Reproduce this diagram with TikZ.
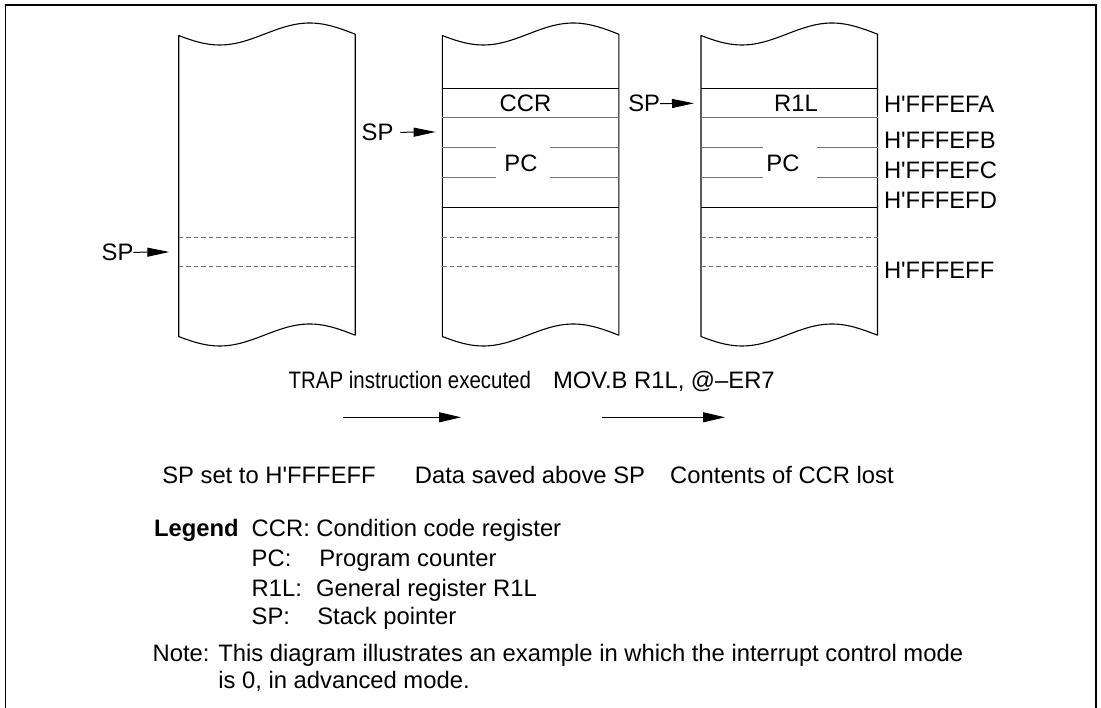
\documentclass[tikz,border=0pt]{standalone}
\usepackage{fontspec}
\setmainfont{Liberation Sans}
\usetikzlibrary{arrows.meta}
\newcommand\hq{\textquotesingle}
\newcommand\stackcol[1]{%
  \draw[col] plot[domain=0:176.5,samples=45] ({#1+\x},{34+11*cos(2*(\x-41))})
     -- plot[domain=176.5:0,samples=45] ({#1+\x},{335+11*cos(2*(\x-41))}) -- cycle;
  \draw[dashrow] (#1,237.3) -- ++(176.5,0);
  \draw[dashrow] (#1,267) -- ++(176.5,0);
}
\newcommand\fullrows[3]{% left, gap left, gap right
  \draw[solidrow] (#1,88.3) -- ++(176.5,0);
  \draw[solidrow] (#1,207.3) -- ++(176.5,0);
  \draw[grayrow] (#1,117.7) -- ++(176.5,0);
  \draw[grayrow] (#1,147.7) -- (#2,147.7);
  \draw[grayrow] (#3,147.7) -- (#1+176.5,147.7);
  \draw[grayrow] (#1,177.7) -- (#2,177.7);
  \draw[grayrow] (#3,177.7) -- (#1+176.5,177.7);
}
\newcommand\cond[2]{\scalebox{#1}[1]{#2}}
\begin{document}
\begin{tikzpicture}[x=1pt,y=-1pt,
  every node/.style={inner sep=0pt, outer sep=0pt, font=\fontsize{23.8}{28}\selectfont},
  col/.style={line width=1.1pt, line join=round},
  solidrow/.style={line width=1pt},
  grayrow/.style={line width=1pt, black!55},
  dashrow/.style={line width=1pt, black!55, dash pattern=on 4.5pt off 3pt},
  sparrow/.style={line width=1pt, -{Triangle[length=22pt,width=9pt]}},
  procarrow/.style={line width=1pt, -{Triangle[length=22pt,width=10pt]}},
  lbl/.style={anchor=base west},
  ctr/.style={anchor=base},
]
\useasboundingbox (0,0) rectangle (1101,708);
\draw[line width=1.6pt] (5.5,708) -- (5.5,5) -- (1096,5) -- (1096,708);

% columns
\stackcol{178.7}
\stackcol{442.3}
\stackcol{701}
\fullrows{442.3}{496}{550}
\fullrows{701}{762.7}{817.3}

% cell texts
\node[ctr] (ccr) at (525.5,111.5) {CCR};
\node[ctr] (pc2) at (521,171.2) {PC};
\node[ctr] (r1l) at (796,111.5) {R1L};
\node[ctr] (pc3) at (783,171.2) {PC};

% SP pointers
\node[lbl] (sp1) at (101.7,260.5) {SP};
\coordinate (t1) at (169.3,252);
\draw[sparrow] (sp1.east) -- (t1);
\node[lbl] (sp2) at (361.7,140.5) {SP};
\coordinate (t2) at (435.7,132);
\draw[sparrow] ([xshift=7pt]sp2.east) -- (t2);
\node[lbl] (sp3) at (628.3,111.8) {SP};
\coordinate (t3) at (694,103.3);
\draw[sparrow] (sp3.east) -- (t3);

% addresses
\node[lbl] (afa) at (884,113) {H\hq FFFEFA};
\node[lbl] (afb) at (884,148.5) {H\hq FFFEFB};
\node[lbl] (afc) at (884,179) {H\hq FFFEFC};
\node[lbl] (afd) at (884,208.5) {H\hq FFFEFD};
\node[lbl] (aff) at (884,278.8) {H\hq FFFEFF};

% process
\node[anchor=base east] (trap) at (531,389) {\cond{0.86}{TRAP instruction executed}};
\node[anchor=base west] (mov) at (553,389) {MOV.B R1L, @–ER7};
\coordinate (p1a) at (343,417.3);
\coordinate (p1b) at (461,417.3);
\coordinate (p2a) at (602,417.3);
\coordinate (p2b) at (725,417.3);
\draw[procarrow] (p1a) -- (p1b);
\draw[procarrow] (p2a) -- (p2b);

\node[ctr] (st1) at (269,483) {SP set to H\hq FFFEFF};
\node[ctr] (st2) at (530,483) {Data saved above SP};
\node[ctr] (st3) at (782,483) {Contents of CCR lost};

% legend
\node[lbl,font=\fontsize{23.8}{28}\selectfont\bfseries] (leg) at (154,536.8) {Legend};
\node[lbl] (lccr) at (251.7,536.8) {CCR: Condition code register};
\node[lbl] (lpc) at (251.7,566.8) {PC:};
\node[lbl] (lpcd) at (319.3,566.8) {Program counter};
\node[lbl] (lr1l) at (251.7,596.3) {R1L:};
\node[lbl] (lr1ld) at (316,596.3) {General register R1L};
\node[lbl] (lsp) at (251.7,624.2) {SP:};
\node[lbl] (lspd) at (317.3,624.2) {Stack pointer};
\node[lbl] (note1) at (152.7,661.8) {Note: This diagram illustrates an example in which the interrupt control mode};
\node[lbl] (note2) at (218.3,688.5) {is 0, in advanced mode.};
\end{tikzpicture}
\end{document}
